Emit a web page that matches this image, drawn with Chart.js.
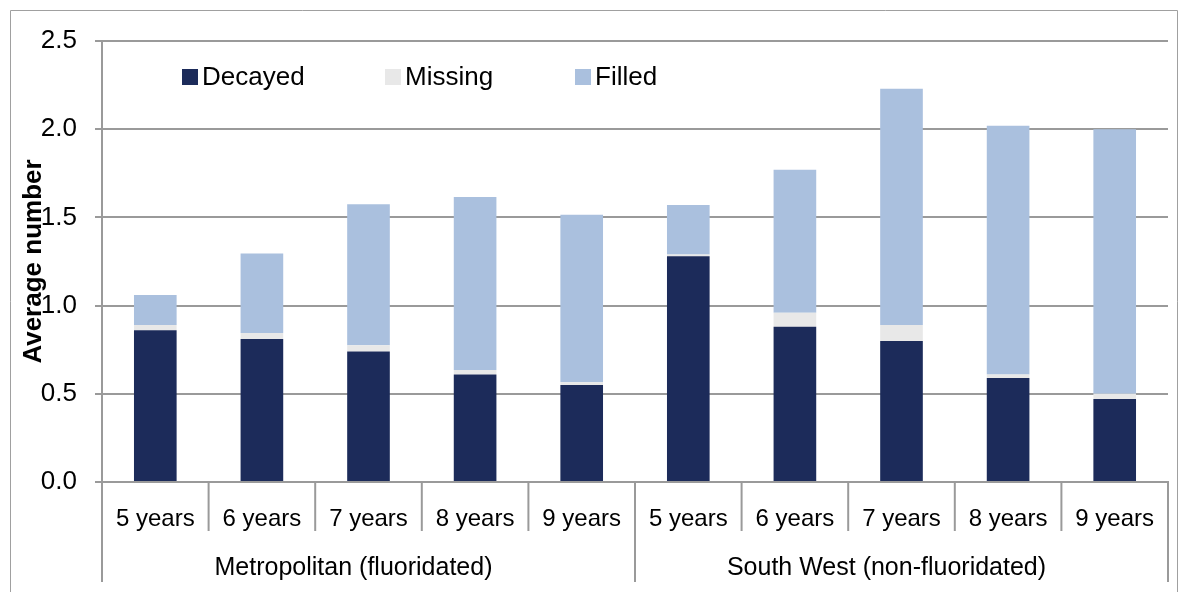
<!DOCTYPE html>
<html>
<head>
<meta charset="utf-8">
<script src="https://cdn.jsdelivr.net/npm/chart.js@4"></script>
<style>
html, body { margin: 0; padding: 0; background: #fff; }
</style>
</head>
<body>
<canvas id="cariesChart" width="1182" height="592"></canvas>
<script>
// chart data
var categories = ['5 years', '6 years', '7 years', '8 years', '9 years', '5 years', '6 years', '7 years', '8 years', '9 years'];
var groups = ['Metropolitan (fluoridated)', 'South West (non-fluoridated)'];
var groupSize = 5;
var decayed = [0.86, 0.81, 0.74, 0.61, 0.55, 1.28, 0.88, 0.80, 0.59, 0.47];
var missing = [0.03, 0.035, 0.035, 0.025, 0.015, 0.01, 0.08, 0.09, 0.02, 0.03];
var filled = [0.17, 0.45, 0.80, 0.98, 0.95, 0.28, 0.81, 1.34, 1.41, 1.50];
var yTicks = [0, 0.5, 1.0, 1.5, 2.0, 2.5];

var FONT = 'Liberation Sans, Arial, sans-serif';
var GRID = '#9a9a9a';

// frame, legend, group labels and separators
var decorPlugin = {
    id: 'decor',
    beforeDraw: function (chart) {
        var ctx = chart.ctx;
        ctx.save();
        ctx.strokeStyle = '#a0a0a0';
        ctx.lineWidth = 1;
        ctx.beginPath();
        ctx.moveTo(10.5, 600);
        ctx.lineTo(10.5, 10.5);
        ctx.lineTo(1177.5, 10.5);
        ctx.lineTo(1177.5, 600);
        ctx.stroke();
        ctx.restore();
    },
    afterDraw: function (chart) {
        var ctx = chart.ctx;
        var xs = chart.scales.x;
        var area = chart.chartArea;
        var n = categories.length;
        var bounds = [xs.left];
        for (var i = 0; i < n - 1; i++) {
            bounds.push((xs.getPixelForValue(i) + xs.getPixelForValue(i + 1)) / 2);
        }
        bounds.push(xs.right);

        ctx.save();
        ctx.strokeStyle = GRID;
        ctx.lineWidth = 2;
        bounds.forEach(function (bx, i) {
            var isGroup = (i % groupSize === 0);
            ctx.beginPath();
            ctx.moveTo(bx, area.bottom);
            ctx.lineTo(bx, isGroup ? 582 : 531);
            ctx.stroke();
        });

        ctx.fillStyle = '#000';
        ctx.font = '25px ' + FONT;
        ctx.textAlign = 'center';
        ctx.textBaseline = 'middle';
        groups.forEach(function (g, gi) {
            var x0 = bounds[gi * groupSize];
            var x1 = bounds[(gi + 1) * groupSize];
            ctx.fillText(g, (x0 + x1) / 2 - 15, 568);
        });

        // legend inside the plot
        var legendX = [182, 385, 575];
        ctx.font = '26px ' + FONT;
        ctx.textAlign = 'left';
        chart.data.datasets.forEach(function (ds, i) {
            ctx.fillStyle = ds.backgroundColor;
            ctx.fillRect(legendX[i], 69, 16, 16);
            ctx.fillStyle = '#000';
            ctx.fillText(ds.label, legendX[i] + 20, 78);
        });
        ctx.restore();
    }
};

var ctx = document.getElementById('cariesChart').getContext('2d');
var cariesChart = new Chart(ctx, {
    type: 'bar',
    data: {
        labels: categories,
        datasets: [
            { label: 'Decayed', data: decayed, backgroundColor: '#1c2b5a' },
            { label: 'Missing', data: missing, backgroundColor: '#e8e8e8' },
            { label: 'Filled', data: filled, backgroundColor: '#aac0de' }
        ]
    },
    options: {
        responsive: false,
        animation: false,
        layout: { padding: { top: 41, right: 14, left: 0, bottom: 0 } },
        datasets: {
            bar: { barPercentage: 0.4, categoryPercentage: 1.0 }
        },
        plugins: {
            legend: { display: false },
            tooltip: { enabled: false }
        },
        scales: {
            x: {
                stacked: true,
                grid: { display: false },
                border: { color: GRID, width: 2 },
                ticks: {
                    color: '#000',
                    font: { family: FONT, size: 24 },
                    padding: 15,
                    maxRotation: 0,
                    autoSkip: false
                },
                afterFit: function (scale) { scale.height = 110; }
            },
            y: {
                stacked: true,
                min: 0,
                max: 2.5,
                afterBuildTicks: function (scale) {
                    scale.ticks = yTicks.map(function (v) { return { value: v }; });
                },
                grid: { color: GRID, lineWidth: 2, tickLength: 7 },
                border: { color: GRID, width: 2 },
                ticks: {
                    color: '#000',
                    font: { family: FONT, size: 26 },
                    padding: 18,
                    callback: function (v) { return Number(v).toFixed(1); }
                },
                title: {
                    display: true,
                    text: 'Average number',
                    color: '#000',
                    font: { family: FONT, size: 26, weight: 'bold' },
                    padding: { top: 18, bottom: 0 }
                },
                afterFit: function (scale) { scale.width = 102; }
            }
        }
    },
    plugins: [decorPlugin]
});
</script>
</body>
</html>
